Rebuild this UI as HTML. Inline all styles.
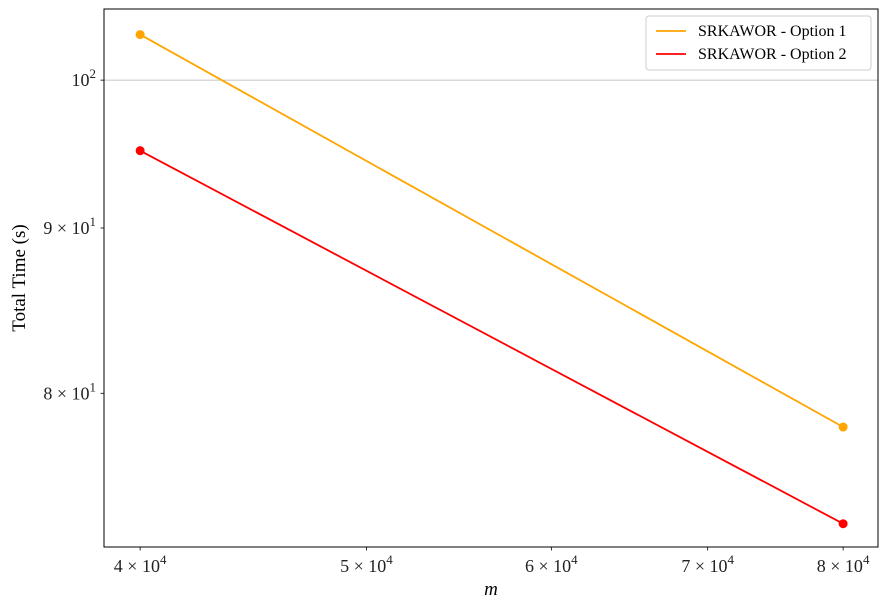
<!DOCTYPE html>
<html><head><meta charset="utf-8"><style>
html,body{margin:0;padding:0;background:#fff;}
svg{display:block;font-family:"Liberation Serif",serif;}
</style></head><body>
<svg id="chart" width="888" height="607"></svg>
<script>
const xValues=[40000,80000];
const series1=[103.3,78.1];
const series2=[95.1,72.9];
const seriesNames=["SRKAWOR - Option 1","SRKAWOR - Option 2"];
const xTicks=[40000,50000,60000,70000,80000];
const xTickLabels=["4","5","6","7","8"];
const yTicks=[100,90,80];
const NS="http://www.w3.org/2000/svg";
const svg=document.getElementById('chart');
const L=104,R=878,T=9,B=547;
const xMin=38600,xMax=82800,yMin=71.7,yMax=105.2;
function xs(v){return L+(Math.log10(v)-Math.log10(xMin))/(Math.log10(xMax)-Math.log10(xMin))*(R-L);}
function ys(v){return B-(Math.log10(v)-Math.log10(yMin))/(Math.log10(yMax)-Math.log10(yMin))*(B-T);}
function mk(tag,attrs,parent){const e=document.createElementNS(NS,tag);for(const k in attrs)e.setAttribute(k,attrs[k]);(parent||svg).appendChild(e);return e;}
const g=mk('line',{x1:L,x2:R,y1:ys(100),y2:ys(100),stroke:'#b0b0b0','stroke-width':0.8});


yTicks.forEach(v=>{
 const y=ys(v);
 const t=mk('line',{x1:L-3.5,x2:L,y1:y,y2:y,stroke:'#000','stroke-width':0.8});
 
 
 const tx=mk('text',{x:L-8,y:y+6,'text-anchor':'end','font-size':18,fill:'#222'});
 
 
 if(v===100){tx.innerHTML='10<tspan dy="-8" font-size="13">2</tspan>';}
 else{tx.innerHTML=(v/10)+' × 10<tspan dy="-8" font-size="13">1</tspan>';}
});
xTicks.forEach((v,i)=>{
 const x=xs(v);
 const t=mk('line',{x1:x,x2:x,y1:B,y2:B+3.5,stroke:'#000','stroke-width':0.8});
 
 
 const tx=mk('text',{x:x,y:B+25,'text-anchor':'middle','font-size':18,fill:'#222'});
 
 
 tx.innerHTML=xTickLabels[i]+' × 10<tspan dy="-8" font-size="13">4</tspan>';
});
[[series1,'orange'],[series2,'red']].forEach(([d,c],si)=>{
 const pts=d.map((v,i)=>xs(xValues[i])+','+ys(v)).join(' ');
 const pl=mk('polyline',{points:pts,fill:'none',stroke:c,'stroke-width':1.8});
 
 
 d.forEach((v,i)=>{
  const p=mk('circle',{cx:xs(xValues[i]),cy:ys(v),r:4.5,fill:c});
  
  
 });
});
const fr=mk('rect',{x:L,y:T,width:R-L,height:B-T,fill:'none',stroke:'#000','stroke-width':1});


const xt=mk('text',{x:(L+R)/2,y:595,'text-anchor':'middle','font-size':19,'font-style':'italic',fill:'#000'});
xt.textContent='m';


const yt=mk('text',{x:0,y:0,'text-anchor':'middle','font-size':19,fill:'#000',transform:'translate(25,278) rotate(-90)'});
yt.textContent='Total Time (s)';


const lg=mk('rect',{x:646,y:16,width:225,height:54,rx:3,fill:'#fff',stroke:'#ccc','stroke-width':1});


['orange','red'].forEach((c,i)=>{
 const y=31+i*23;
 const l=mk('line',{x1:656,x2:686,y1:y,y2:y,stroke:c,'stroke-width':1.8});
 
 
 const t=mk('text',{x:698,y:y+5,'font-size':16,fill:'#000'});
 t.textContent=seriesNames[i];
 
 
});
</script>
</body></html>
